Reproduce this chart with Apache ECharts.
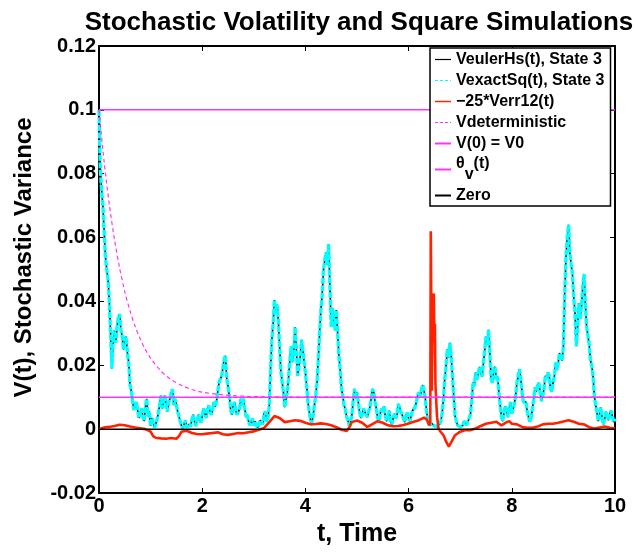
<!DOCTYPE html>
<html>
<head>
<meta charset="utf-8">
<script src="https://cdn.jsdelivr.net/npm/echarts@6/dist/echarts.min.js"></script>
<style>html,body{margin:0;padding:0;background:#fff}#c{width:644px;height:552px}</style>
</head>
<body>
<div id="c"></div>
<script>
// ---- data ----
const pathStep = 0.05; // samples at t = 0, 0.05, ..., 10
const vEuler = [
0.100,0.075,0.062,0.050,0.040,0.019,0.031,0.032,0.036,0.029,
0.028,0.024,0.014,0.009,0.007,0.0058,0.005,0.004,0.007,0.004,
0.001,0.002,0.0015,0.005,0.0105,0.0085,0.0075,0.0085,0.0115,0.0075,
0.0075,0.004,0.001,0.0015,0.0005,0.0015,0.003,0.0025,0.0025,0.0035,
0.004,0.005,0.006,0.0055,0.006,0.007,0.0115,0.0157,0.019,0.023,
0.0135,0.0064,0.0074,0.0059,0.0054,0.0095,0.0095,0.0038,0.0023,0.0023,
0.0012,0.0012,0.0014,0.0023,0.0048,0.0023,0.0074,0.028,0.0404,0.039,
0.026,0.0147,0.0069,0.0115,0.0218,0.021,0.032,0.0167,0.0229,0.025,
0.0177,0.0085,0.0028,0.0043,0.0105,0.0218,0.0373,0.0497,0.0553,0.058,
0.032,0.034,0.0373,0.0229,0.0126,0.0074,0.0038,0.0012,0.0043,0.0126,
0.0115,0.0054,0.0048,0.0064,0.0038,0.0069,0.0126,0.0085,0.0035,0.0048,
0.0054,0.0038,0.0043,0.0025,0.0033,0.0033,0.0079,0.0054,0.0033,0.0043,
0.0033,0.0043,0.0059,0.0085,0.0115,0.0126,0.012,0.0054,0.0012,0.0017,
0.001,0.0009,0.0017,0.0048,0.0156,0.025,0.027,0.0167,0.0043,0.0012,
0.0007,0.0012,0.0023,0.0017,0.0048,0.0146,0.0177,0.0177,0.0177,0.0208,
0.029,0.0311,0.0157,0.0188,0.0157,0.0115,0.0038,0.0054,0.0059,0.0064,
0.0048,0.0079,0.0146,0.0188,0.0115,0.0079,0.0054,0.0023,0.0064,0.0131,
0.0136,0.0115,0.0105,0.0167,0.0177,0.0126,0.0146,0.0208,0.0208,0.0229,
0.026,0.0538,0.064,0.0517,0.0414,0.026,0.0394,0.0383,0.0486,0.0321,
0.0265,0.0198,0.0105,0.0054,0.0048,0.0033,0.0033,0.0054,0.0048,0.0038,
0.0033
];
// samples half-way between the above (t = 0.025, 0.075, ..., 9.975): the noisy band
const vEulerMid = [
0.082,0.070,0.054,0.047,0.030,0.028,0.027,0.035,0.031,0.025,
0.029,0.021,0.012,0.006,0.0085,0.0035,0.0065,0.0025,0.0095,0.0055,
0.0035,0.0005,0.003,0.0075,0.0065,0.0105,0.0055,0.0095,0.0125,0.0095,
0.0055,0.0025,0.0003,0.0028,0.0002,0.0008,0.0045,0.001,0.0045,0.002,
0.0065,0.0035,0.0075,0.0045,0.0085,0.0085,0.0145,0.0165,0.022,0.016,
0.0105,0.0045,0.0085,0.0045,0.0065,0.0075,0.0065,0.0045,0.0012,0.0033,
0.0025,0.0005,0.0028,0.0015,0.0055,0.0035,0.019,0.033,0.036,0.034,
0.018,0.0115,0.0095,0.0165,0.026,0.0245,0.025,0.0195,0.028,0.021,
0.0135,0.0055,0.002,0.0075,0.0145,0.030,0.042,0.053,0.0515,0.045,
0.038,0.031,0.030,0.0185,0.0105,0.0062,0.0028,0.0022,0.0085,0.0095,
0.0085,0.0035,0.0065,0.0045,0.0055,0.0095,0.0115,0.0065,0.0025,0.0065,
0.0072,0.0025,0.0058,0.0015,0.0048,0.0045,0.0068,0.0045,0.0022,0.0052,
0.0025,0.0058,0.0068,0.0105,0.0098,0.0138,0.0095,0.0028,0.0006,0.0022,
0.0004,0.0015,0.0025,0.0095,0.0195,0.0225,0.023,0.0105,0.0025,0.0018,
0.0004,0.0025,0.0012,0.0035,0.0095,0.0135,0.0155,0.0195,0.0165,0.0245,
0.0265,0.0235,0.0145,0.0195,0.0165,0.0075,0.0025,0.0072,0.0038,0.0085,
0.0045,0.0105,0.0168,0.0155,0.0085,0.0085,0.0038,0.0035,0.0095,0.0118,
0.0145,0.0088,0.0128,0.0158,0.0168,0.0118,0.0165,0.0185,0.0238,0.0215,
0.042,0.060,0.055,0.0485,0.0365,0.032,0.0345,0.0445,0.0395,0.0315,
0.0215,0.0165,0.0075,0.0025,0.0068,0.0015,0.0055,0.0028,0.0058,0.0022
];

const tErr = [0,0.1,0.2,0.3,0.4,0.5,0.6,0.7,0.8,0.9,1.0,1.05,1.1,1.2,1.3,1.4,1.5,1.55,1.6,1.7,1.8,1.9,2.0,2.1,2.2,2.3,2.4,2.5,2.6,2.7,2.8,2.9,3.0,3.1,3.2,3.3,3.4,3.5,3.6,3.7,3.8,3.9,4.0,4.1,4.2,4.3,4.4,4.5,4.6,4.7,4.8,4.85,4.9,5.0,5.1,5.2,5.3,5.4,5.5,5.6,5.7,5.8,5.9,6.0,6.1,6.2,6.3,6.35,6.4,6.42,6.43,6.45,6.47,6.49,6.5,6.51,6.52,6.55,6.58,6.62,6.68,6.73,6.78,6.83,6.9,7.0,7.1,7.2,7.3,7.4,7.5,7.6,7.7,7.8,7.9,7.95,8.0,8.1,8.2,8.3,8.4,8.5,8.6,8.7,8.8,8.9,9.0,9.1,9.2,9.3,9.4,9.5,9.6,9.7,9.8,9.9,10.0];
const vErr = [0,0.0005,0.0007,0.0010,0.0014,0.0012,0.0008,0.0005,0.0003,0.0,-0.0008,-0.0022,-0.0027,-0.0029,-0.003,-0.0028,-0.0030,-0.0022,-0.0008,-0.0005,-0.0012,-0.0015,-0.0016,-0.0014,-0.0012,-0.0010,-0.0016,-0.0018,-0.0015,-0.0012,-0.0013,-0.0010,-0.0007,-0.0002,0.0004,0.0022,0.0041,0.0035,0.0022,0.0025,0.0028,0.0026,0.0020,0.0015,0.0016,0.0018,0.0016,0.0012,0.0006,-0.0002,-0.0006,0.0005,0.0022,0.0027,0.0020,0.0007,0.0016,0.0025,0.0020,0.0012,0.0009,0.0010,0.0013,0.0018,0.0023,0.0028,0.0036,0.0030,0.0012,0.002,0.062,0.012,0.041,0.0425,0.027,0.033,0.014,0.004,0.0002,-0.0008,-0.002,-0.004,-0.0055,-0.004,-0.0019,-0.0008,-0.0003,-0.0003,0.0002,0.0010,0.0017,0.0020,0.0023,0.0012,0.0022,0.0025,0.0017,0.0015,0.0007,0.0004,0.0004,0.0008,0.0015,0.0017,0.0017,0.0020,0.0024,0.0028,0.0023,0.0017,0.0015,0.0006,0.0002,0.0005,0.0008,0.0004,0.0002];

const tDet = [0,0.1,0.2,0.3,0.4,0.5,0.6,0.7,0.8,0.9,1.0,1.2,1.4,1.6,1.8,2.0,2.3,2.6,3.0,4,5,6,7,8,9,10];
const vDet = [0.1,0.0837,0.0703,0.0594,0.0504,0.0431,0.0371,0.0322,0.0282,0.0249,0.0222,0.0182,0.0155,0.0137,0.0124,0.0116,0.0109,0.0105,0.0102,0.01005,0.01,0.01,0.01,0.01,0.01,0.01];

const tRange = [0, 10];
const v0Level = 0.1;
const thetaLevel = 0.01;
const zeroLevel = 0;

const xTicks = ['0','2','4','6','8','10'];
const yTicks = ['-0.02','0','0.02','0.04','0.06','0.08','0.1','0.12'];
const seriesNames = ['VeulerHs(t), State 3','VexactSq(t), State 3','\u221225*Verr12(t)','Vdeterministic','V(0) = V0','\u03b8v(t)','Zero'];

// ---- build ----
const F = 'Liberation Sans';
function interleave(main, mid) {
  const out = [];
  main.forEach((v, i) => {
    out.push([i * pathStep, v]);
    if (i < mid.length) out.push([(i + 0.5) * pathStep, mid[i]]);
  });
  return out;
}
const pathE = interleave(vEuler, vEulerMid);
const pathX = interleave(vEuler, vEulerMid); // VexactSq coincides with VeulerHs at this scale
const err = tErr.map((t,i)=>[t, vErr[i]]);
const det = tDet.map((t,i)=>[t, vDet[i]]);
const flat = lv => tRange.map(t=>[t, lv]);
const MAG = '#ff33ff';
const NOSYM = {color:'rgba(0,0,0,0)', borderColor:'rgba(0,0,0,0)', borderWidth:0};

const chart = echarts.init(document.getElementById('c'), null, {renderer:'canvas'});
chart.setOption({
  animation:false,
  backgroundColor:'#fff',
  title:{text:'Stochastic Volatility and Square Simulations', left:354, top:5, textAlign:'center',
    textStyle:{fontFamily:F, fontWeight:'bold', fontSize:26, color:'#000'}},
  grid:{left:99, right:29, top:46, bottom:53, containLabel:false},
  legend:{
    orient:'vertical', left:430, top:48, padding:[3,6,2,4], itemGap:4, itemWidth:16, itemHeight:12,
    backgroundColor:'#fff', borderColor:'#000', borderWidth:1.5, borderRadius:0,
    itemStyle:NOSYM,
    textStyle:{fontFamily:F, fontWeight:'bold', fontSize:16, color:'#000', lineHeight:17,
      rich:{
        n:{fontFamily:F, fontWeight:'bold', fontSize:16, color:'#000', lineHeight:27, verticalAlign:'top'},
        s:{fontFamily:F, fontWeight:'bold', fontSize:16, color:'#000', lineHeight:27, verticalAlign:'bottom'}
      }},
    formatter:function(name){ if(name===seriesNames[5]) return '{n|\u03b8}{s|v}{n|(t)}'; return name; },
    data:[
      {name:seriesNames[0], lineStyle:{width:1.2}},
      {name:seriesNames[1], lineStyle:{width:1.2, color:'#00ffff', type:[3,2]}},
      {name:seriesNames[2], lineStyle:{width:1.5}},
      {name:seriesNames[3], lineStyle:{width:1.2, type:[3,2]}},
      {name:seriesNames[4]},
      {name:seriesNames[5]},
      {name:seriesNames[6]}
    ]
  },
  xAxis:[
    {type:'value', min:0, max:10, interval:2, position:'bottom',
     axisLine:{show:true, onZero:false, lineStyle:{color:'#000', width:2}},
     axisTick:{show:true, inside:true, length:5, lineStyle:{color:'#000', width:1}},
     splitLine:{show:false},
     axisLabel:{margin:3, fontFamily:F, fontWeight:'bold', fontSize:20, color:'#000',
       formatter:v=>xTicks[Math.round(v/2)]},
     name:'t, Time', nameLocation:'middle', nameGap:29,
     nameTextStyle:{fontFamily:F, fontWeight:'bold', fontSize:25, color:'#000'}},
    {type:'value', min:0, max:10, interval:2, position:'top',
     axisLine:{show:true, onZero:false, lineStyle:{color:'#000', width:2}},
     axisTick:{show:true, inside:true, length:5, lineStyle:{color:'#000', width:1}},
     splitLine:{show:false}, axisLabel:{show:false}}
  ],
  yAxis:[
    {type:'value', min:-0.02, max:0.12, interval:0.02, position:'left',
     axisLine:{show:true, onZero:false, lineStyle:{color:'#000', width:2}},
     axisTick:{show:true, inside:true, length:5, lineStyle:{color:'#000', width:1}},
     splitLine:{show:false},
     axisLabel:{margin:3, fontFamily:F, fontWeight:'bold', fontSize:20, color:'#000',
       formatter:v=>yTicks[Math.round((v+0.02)/0.02)]},
     name:'V(t), Stochastic Variance', nameLocation:'middle', nameGap:63,
     nameTextStyle:{fontFamily:F, fontWeight:'bold', fontSize:24, color:'#000', padding:[0,0,0,24]}},
    {type:'value', min:-0.02, max:0.12, interval:0.02, position:'right',
     axisLine:{show:true, onZero:false, lineStyle:{color:'#000', width:2}},
     axisTick:{show:true, inside:true, length:5, lineStyle:{color:'#000', width:1}},
     splitLine:{show:false}, axisLabel:{show:false}}
  ],
  series:[
    {name:seriesNames[0], type:'line', data:pathE, symbol:'none', lineStyle:{color:'#000', width:1.6}, itemStyle:{color:'#000'}},
    {name:seriesNames[1], type:'line', data:pathX, symbol:'none', lineStyle:{color:'#00ffff', width:3.4, type:[6,1.5]}, itemStyle:{color:'#00ffff'}},
    {name:seriesNames[2], type:'line', data:err, symbol:'none', lineStyle:{color:'#ff2200', width:2.6}, itemStyle:{color:'#ff2200'}},
    {name:seriesNames[3], type:'line', data:det, symbol:'none', smooth:0.3, lineStyle:{color:MAG, width:1.2, type:[4,3]}, itemStyle:{color:MAG}},
    {name:seriesNames[4], type:'line', data:flat(v0Level), symbol:'none', lineStyle:{color:MAG, width:1.5}, itemStyle:{color:MAG}},
    {name:seriesNames[5], type:'line', data:flat(thetaLevel), symbol:'none', lineStyle:{color:MAG, width:1.5}, itemStyle:{color:MAG}},
    {name:seriesNames[6], type:'line', data:flat(zeroLevel), symbol:'none', lineStyle:{color:'#000', width:1.5}, itemStyle:{color:'#000'}}
  ]
});
</script>
</body>
</html>
